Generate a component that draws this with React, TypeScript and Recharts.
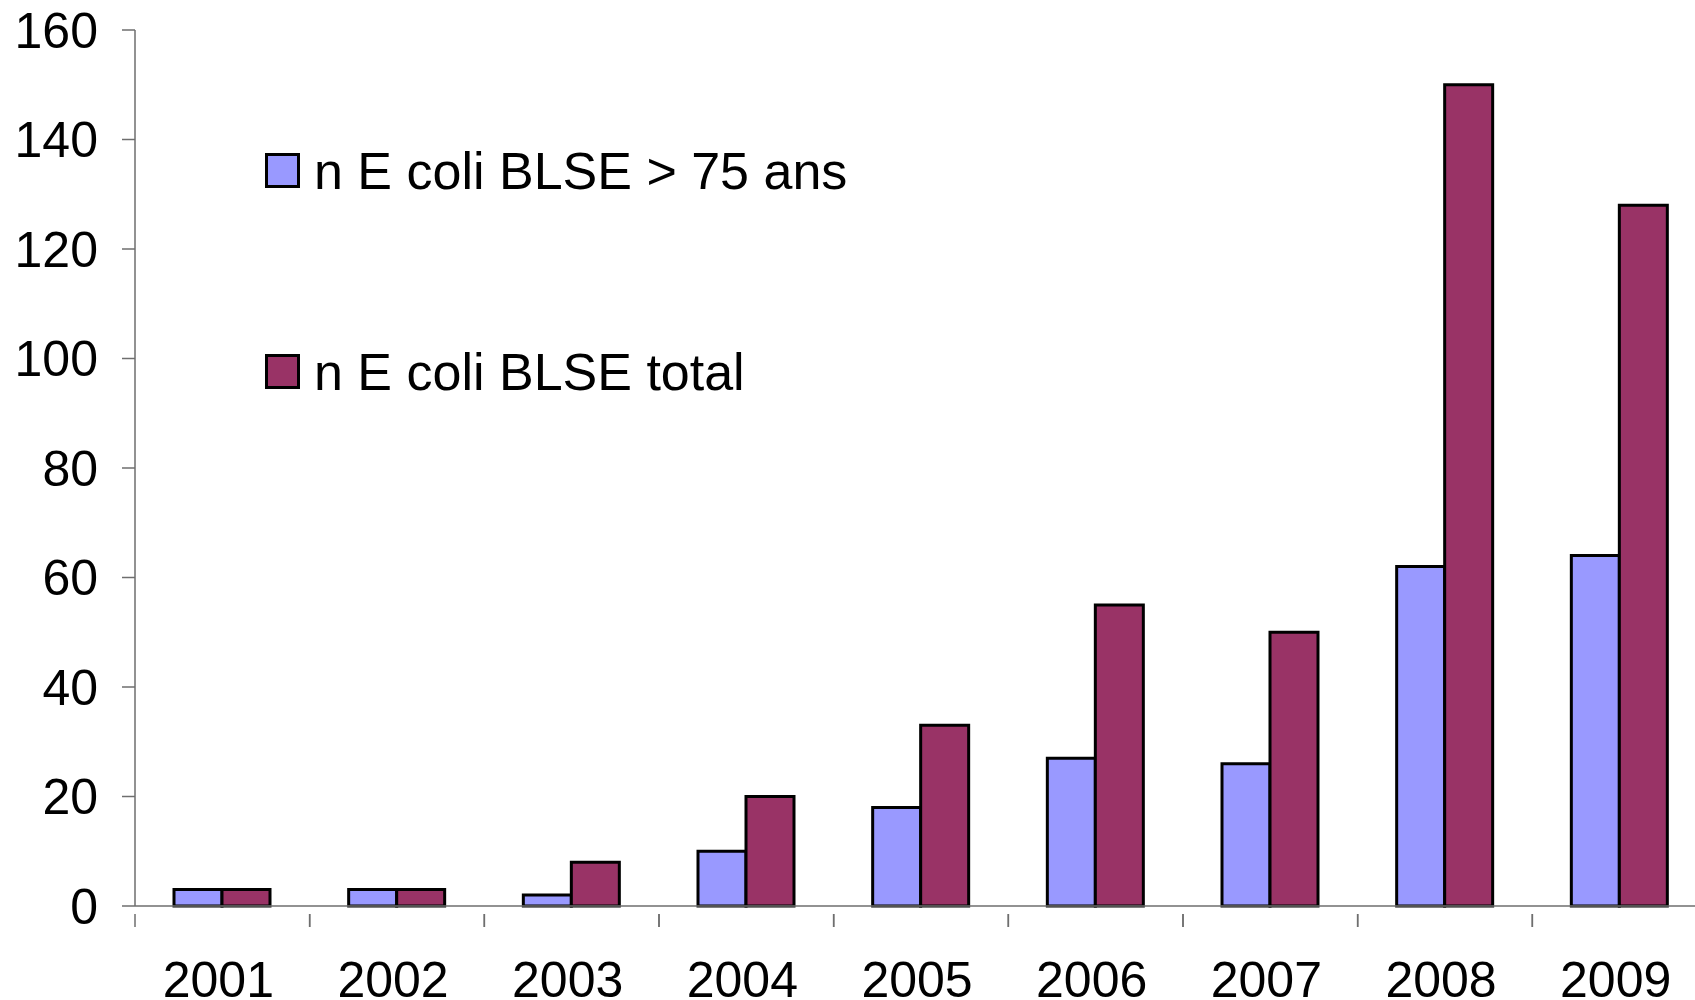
import React from 'react';
import { BarChart, Bar, XAxis, YAxis, Legend } from 'recharts';

const years = ['2001', '2002', '2003', '2004', '2005', '2006', '2007', '2008', '2009'];
const over75 = [3, 3, 2, 10, 18, 27, 26, 62, 64];
const total = [3, 3, 8, 20, 33, 55, 50, 150, 128];
const yTicks = [0, 20, 40, 60, 80, 100, 120, 140, 160];
const seriesNames = ['n E coli BLSE > 75 ans', 'n E coli BLSE total'];
const seriesColors = ['#9999FF', '#993366'];

const data = years.map((y, i) => ({ year: y, a: over75[i], b: total[i] }));

const FONT = '"Liberation Sans", Arial, sans-serif';
const AXIS = '#6e6e6e';

const XTick = (props: any) => {
  const { x, y, payload } = props;
  const half = payload && payload.offset ? payload.offset : 87.3;
  return (
    <g>
      <line x1={x - half} y1={y} x2={x - half} y2={y + 13} stroke={AXIS} strokeWidth={1.5} />
      <line x1={x + half} y1={y} x2={x + half} y2={y + 13} stroke={AXIS} strokeWidth={1.5} />
      <text x={x - 4} y={y + 47} dy="0.71em" textAnchor="middle" fontSize={50} fill="#000" fontFamily={FONT}>
        {payload.value}
      </text>
    </g>
  );
};

const LegendContent = (props: any) => {
  const items = (props.payload || []) as any[];
  return (
    <div style={{ fontFamily: FONT }}>
      {items.map((it, i) => (
        <div key={i} style={{ display: 'flex', alignItems: 'center', height: 35, marginBottom: i === 0 ? 166 : 0 }}>
          <div style={{ width: 35, height: 35, flex: '0 0 35px', boxSizing: 'border-box', border: '3px solid #000', background: it.color }} />
          <span style={{ fontSize: 52, lineHeight: '52px', marginLeft: 14, color: '#000', whiteSpace: 'nowrap' }}>{it.value}</span>
        </div>
      ))}
    </div>
  );
};

export default function App() {
  return (
    <div style={{ position: 'absolute', left: 0, top: 0, width: 1695, height: 1000, overflow: 'hidden', background: '#fff' }}>
      <BarChart
        width={1707}
        height={1000}
        data={data}
        margin={{ top: 30, right: 0, bottom: 34, left: 0 }}
        barGap={0}
        barSize={48}
      >
        <XAxis
          dataKey="year"
          height={60}
          axisLine={{ stroke: AXIS, strokeWidth: 1.5 }}
          tickLine={false}
          tick={<XTick />}
          interval={0}
        />
        <YAxis
          width={135}
          domain={[0, 160]}
          ticks={yTicks}
          interval={0}
          axisLine={{ stroke: AXIS, strokeWidth: 1.5 }}
          tickLine={{ stroke: AXIS, strokeWidth: 1.5 }}
          tickSize={13}
          tickMargin={24}
          tick={{ fontSize: 50, fill: '#000', fontFamily: FONT }}
        />
        <Legend
          layout="horizontal"
          verticalAlign="middle"
          align="center"
          content={<LegendContent />}
          wrapperStyle={{ left: 265, top: 153, width: 'auto', height: 'auto' }}
        />
        <Bar dataKey="a" name={seriesNames[0]} fill={seriesColors[0]} stroke="#000" strokeWidth={3} isAnimationActive={false} />
        <Bar dataKey="b" name={seriesNames[1]} fill={seriesColors[1]} stroke="#000" strokeWidth={3} isAnimationActive={false} />
      </BarChart>
    </div>
  );
}
